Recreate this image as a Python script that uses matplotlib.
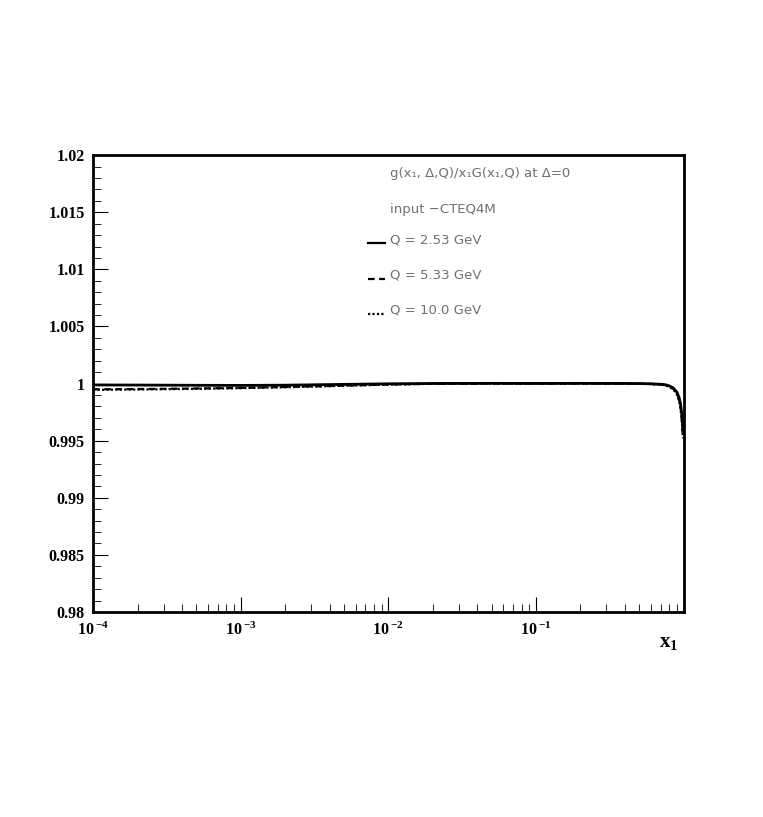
import numpy as np
import matplotlib
matplotlib.use("Agg")
import matplotlib.pyplot as plt
from matplotlib.ticker import FixedLocator, LogLocator, NullFormatter

plt.rcParams["mathtext.fontset"] = "custom"
plt.rcParams["mathtext.rm"] = "Liberation Serif:bold"
plt.rcParams["mathtext.bf"] = "Liberation Serif:bold"
plt.rcParams["mathtext.it"] = "Liberation Serif:bold"

# data
x_vals = [1e-4, 2e-4, 5e-4, 1e-3, 2e-3, 5e-3, 1e-2, 2e-2, 5e-2, 0.1, 0.2, 0.3,
          0.4, 0.5, 0.6, 0.7, 0.75, 0.8, 0.85, 0.9, 0.93, 0.95, 0.97, 0.98, 0.99]
q253 = [0.99988, 0.99987, 0.99985, 0.99984, 0.99986, 0.99993, 0.99998, 1.00001, 1.00002,
        1.00001, 1.00002, 1.00001, 1.00001, 1.00000, 0.99998, 0.99994, 0.99990,
        0.99980, 0.99962, 0.99925, 0.99880, 0.99830, 0.99740, 0.99660, 0.99580]
q533 = [0.99950, 0.99952, 0.99957, 0.99962, 0.99970, 0.99982, 0.99992, 0.99998, 1.00001,
        1.00001, 1.00001, 1.00001, 1.00001, 0.99999, 0.99997, 0.99992, 0.99987,
        0.99975, 0.99955, 0.99915, 0.99865, 0.99810, 0.99715, 0.99630, 0.99550]
q100 = [0.99945, 0.99948, 0.99954, 0.99960, 0.99968, 0.99981, 0.99991, 0.99998, 1.00001,
        1.00001, 1.00001, 1.00001, 1.00001, 0.99999, 0.99996, 0.99990, 0.99985,
        0.99972, 0.99950, 0.99905, 0.99850, 0.99790, 0.99690, 0.99600, 0.99520]

labels = ["Q = 2.53 GeV", "Q = 5.33 GeV", "Q = 10.0 GeV"]
title_text = "g(x\u2081, \u0394,Q)/x\u2081G(x\u2081,Q) at \u0394=0"
input_text = "input \u2212CTEQ4M"
ytick_vals = [0.98, 0.985, 0.99, 0.995, 1.0, 1.005, 1.01, 1.015, 1.02]
ytick_labels = ["0.98", "0.985", "0.99", "0.995", "1", "1.005", "1.01", "1.015", "1.02"]
xtick_vals = [1e-4, 1e-3, 1e-2, 1e-1]
xtick_labels = [r"$10\,^{-4}$", r"$10\,^{-3}$", r"$10\,^{-2}$", r"$10\,^{-1}$"]

fig = plt.figure(figsize=(7.63, 8.17), dpi=100)
ax = fig.add_axes([0.122, 0.251, 0.774, 0.559])

ax.plot(x_vals, q253, color="black", lw=2.0, ls="-")
ax.plot(x_vals, q533, color="black", lw=1.6, ls=(0, (3, 2)))
ax.plot(x_vals, q100, color="black", lw=1.6, ls=(0, (1, 1)))

ax.set_xscale("log")
ax.set_xlim(1e-4, 1.0)
ax.set_ylim(0.98, 1.02)

ax.yaxis.set_major_locator(FixedLocator(ytick_vals))
ax.set_yticklabels(ytick_labels)
ax.yaxis.set_minor_locator(FixedLocator(np.arange(0.98, 1.0201, 0.001)))
ax.xaxis.set_minor_locator(LogLocator(base=10, subs=np.arange(2, 10), numticks=20))
ax.xaxis.set_minor_formatter(NullFormatter())
ax.set_xticks(xtick_vals)
ax.set_xticklabels(xtick_labels)

for lab in ax.get_xticklabels() + ax.get_yticklabels():
    lab.set_fontfamily("Liberation Serif")
    lab.set_fontweight("bold")
    lab.set_fontsize(11.5)

ax.tick_params(which="major", direction="in", length=11, width=0.8, top=False, right=False)
ax.tick_params(which="minor", direction="in", length=6, width=0.6, top=False, right=False)
ax.tick_params(axis="y", which="major", pad=6)
ax.tick_params(axis="x", which="major", pad=7)
for s in ax.spines.values():
    s.set_linewidth(2)

fig.text(0.876, 0.214, r"$x_1$", fontsize=15, ha="center", va="center")

gray = "#707070"
tkw = dict(fontsize=9.5, color=gray, family="DejaVu Sans", va="center", ha="left")
fig.text(0.511, 0.788, title_text, **tkw)
fig.text(0.511, 0.743, input_text, **tkw)
ys = [0.706, 0.663, 0.620]
styles = ["-", (0, (3, 2)), (0, (1, 1))]
for yv, st, lab in zip(ys, styles, labels):
    fig.lines.append(plt.Line2D([0.482, 0.504], [yv - 0.004, yv - 0.004], transform=fig.transFigure,
                                color="black", lw=1.6, ls=st))
    fig.text(0.511, yv, lab, **tkw)

fig.savefig("out.png", dpi=100, facecolor="white")
